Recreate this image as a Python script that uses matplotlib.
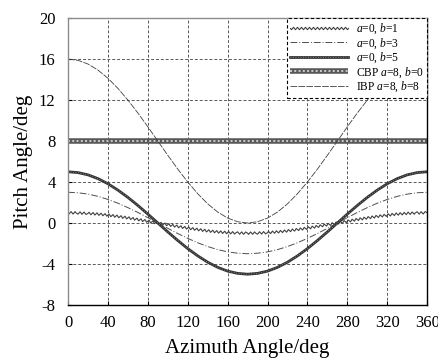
import matplotlib
matplotlib.use("Agg")
import matplotlib.pyplot as plt
from matplotlib.legend_handler import HandlerTuple

plt.rcParams["font.family"] = ["Liberation Serif", "DejaVu Serif"]
plt.rcParams["mathtext.fontset"] = "custom"
plt.rcParams["mathtext.it"] = "Liberation Serif:italic"
plt.rcParams["mathtext.rm"] = "Liberation Serif"
plt.rcParams["axes.unicode_minus"] = False

# ── data (pitch angle vs azimuth angle) ─────────────────────────────────────
AZIMUTH = list(range(0, 361, 10))

PITCH_B1 = [1.00, 0.98, 0.94, 0.87, 0.77, 0.64, 0.50, 0.34, 0.17, 0.00,
            -0.17, -0.34, -0.50, -0.64, -0.77, -0.87, -0.94, -0.98, -1.00,
            -0.98, -0.94, -0.87, -0.77, -0.64, -0.50, -0.34, -0.17, 0.00,
            0.17, 0.34, 0.50, 0.64, 0.77, 0.87, 0.94, 0.98, 1.00]
PITCH_B3 = [3.00, 2.95, 2.82, 2.60, 2.30, 1.93, 1.50, 1.03, 0.52, 0.00,
            -0.52, -1.03, -1.50, -1.93, -2.30, -2.60, -2.82, -2.95, -3.00,
            -2.95, -2.82, -2.60, -2.30, -1.93, -1.50, -1.03, -0.52, 0.00,
            0.52, 1.03, 1.50, 1.93, 2.30, 2.60, 2.82, 2.95, 3.00]
PITCH_B5 = [5.00, 4.92, 4.70, 4.33, 3.83, 3.21, 2.50, 1.71, 0.87, 0.00,
            -0.87, -1.71, -2.50, -3.21, -3.83, -4.33, -4.70, -4.92, -5.00,
            -4.92, -4.70, -4.33, -3.83, -3.21, -2.50, -1.71, -0.87, 0.00,
            0.87, 1.71, 2.50, 3.21, 3.83, 4.33, 4.70, 4.92, 5.00]
PITCH_CBP = [8.0] * len(AZIMUTH)
PITCH_IBP = [16.00, 15.88, 15.52, 14.93, 14.13, 13.14, 12.00, 10.74, 9.39, 8.00,
             6.61, 5.26, 4.00, 2.86, 1.87, 1.07, 0.48, 0.12, 0.00,
             0.12, 0.48, 1.07, 1.87, 2.86, 4.00, 5.26, 6.61, 8.00,
             9.39, 10.74, 12.00, 13.14, 14.13, 14.93, 15.52, 15.88, 16.00]

LABELS = [r"$a$=0, $b$=1", r"$a$=0, $b$=3", r"$a$=0, $b$=5",
          r"CBP $a$=8, $b$=0", r"IBP $a$=8, $b$=8"]

XTICKS = list(range(0, 361, 40))
YTICKS = list(range(-8, 21, 4))

fig = plt.figure(figsize=(4.39, 3.63), dpi=100)
ax = fig.add_axes([0.155, 0.160, 0.818, 0.790])

# a=0, b=1 : wavy line
l1, = ax.plot(AZIMUTH, PITCH_B1, color="0.25", lw=0.8)
l1.set_sketch_params(scale=1.2, length=4, randomness=1)

# a=0, b=3 : dash-dot
l2, = ax.plot(AZIMUTH, PITCH_B3, color="0.3", lw=0.7, dashes=(7, 2, 1, 2))

# a=0, b=5 : thick textured line
l3a, = ax.plot(AZIMUTH, PITCH_B5, color="0.2", lw=2.0)
l3b, = ax.plot(AZIMUTH, PITCH_B5, color="0.6", lw=0.6, dashes=(1, 2))

# CBP : thick hatched band
l4a, = ax.plot(AZIMUTH, PITCH_CBP, color="0.35", lw=4.0, solid_capstyle="butt")
l4b, = ax.plot(AZIMUTH, PITCH_CBP, color="0.8", lw=1.4, dashes=(1, 1.2))

# IBP : thin long dashes
l5, = ax.plot(AZIMUTH, PITCH_IBP, color="0.25", lw=0.6, dashes=(8, 1.5))

ax.set_xlim(0, 360)
ax.set_ylim(-8, 20)
ax.set_xticks(XTICKS)
ax.set_yticks(YTICKS)
ax.tick_params(direction="in", length=3, labelsize=12)
ax.tick_params(axis="x", pad=7)
ax.tick_params(axis="y", pad=9)
ax.grid(True, color="0.35", lw=0.7, dashes=(3, 2))

for side in ("left", "top"):
    ax.spines[side].set_color("0.55")
for side in ("right", "bottom"):
    ax.spines[side].set_color("black")
for sp in ax.spines.values():
    sp.set_linewidth(1.0)

ax.set_xlabel("Azimuth Angle/deg", fontsize=15, labelpad=6)
ax.set_ylabel("Pitch Angle/deg", fontsize=15, labelpad=4)

leg = ax.legend([l1, l2, (l3a, l3b), (l4a, l4b), l5], LABELS,
                handler_map={tuple: HandlerTuple(ndivide=1, pad=0)},
                loc="upper right", fontsize=8.3, frameon=True, fancybox=False,
                borderaxespad=0, handlelength=5.0, handletextpad=0.7,
                labelspacing=0.0, borderpad=0.3)
frame = leg.get_frame()
frame.set_edgecolor("black")
frame.set_linewidth(0.8)
frame.set_linestyle((0, (3, 2)))
frame.set_alpha(1)

fig.savefig("out.png", dpi=100)
